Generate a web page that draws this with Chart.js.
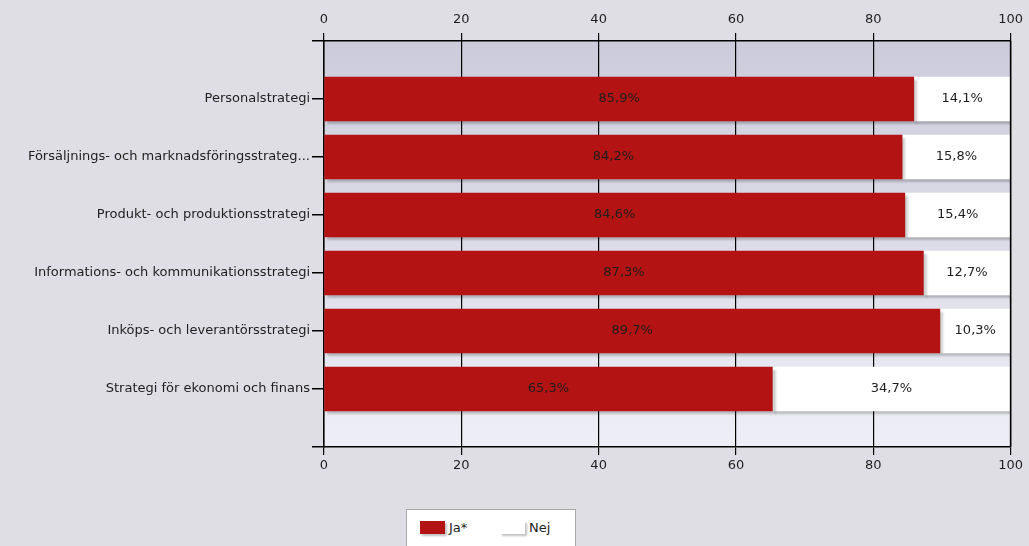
<!DOCTYPE html>
<html>
<head>
<meta charset="utf-8">
<script src="https://cdn.jsdelivr.net/npm/chart.js@4.4.1/dist/chart.umd.min.js"></script>
<style>
  html, body { margin: 0; padding: 0; background: #dfdee4; }
  #wrap { position: relative; width: 1029px; height: 546px; overflow: hidden; }
  #legend { position: absolute; left: 406px; top: 509px; width: 168px; height: 50px; background: #fff; border: 1px solid #a8a8a8; font-family: "DejaVu Sans", sans-serif; font-size: 13px; color: #1e1e1e; }
  .item { position: absolute; top: 10px; display: flex; align-items: center; }
  .sw { width: 25px; height: 13px; margin-right: 4px; box-shadow: 2px 2px 2px rgba(0,0,0,0.25); }
</style>
</head>
<body>
<div id="wrap">
  <canvas id="c" width="1029" height="546"></canvas>
  <div id="legend"></div>
</div>
<script>
const categories = [
  'Personalstrategi',
  'Försäljnings- och marknadsföringsstrateg...',
  'Produkt- och produktionsstrategi',
  'Informations- och kommunikationsstrategi',
  'Inköps- och leverantörsstrategi',
  'Strategi för ekonomi och finans'
];
const jaValues = [85.9, 84.2, 84.6, 87.3, 89.7, 65.3];
const nejValues = [14.1, 15.8, 15.4, 12.7, 10.3, 34.7];
const seriesNames = ['Ja*', 'Nej'];
const seriesColors = ['#b31313', '#ffffff'];
const xTicks = [0, 20, 40, 60, 80, 100];

const labels = [''].concat(categories, ['']);
const pad = arr => [null].concat(arr, [null]);

const FONT = { family: '"DejaVu Sans", sans-serif', size: 13 };

const bgPlugin = {
  id: 'bg',
  beforeDraw(chart) {
    const ctx = chart.ctx, a = chart.chartArea;
    ctx.save();
    ctx.fillStyle = '#dfdee4';
    ctx.fillRect(0, 0, chart.width, chart.height);
    const g = ctx.createLinearGradient(0, a.top, 0, a.bottom);
    g.addColorStop(0, '#cbcbdb');
    g.addColorStop(1, '#eeeef6');
    ctx.fillStyle = g;
    ctx.fillRect(a.left, a.top, a.right - a.left, a.bottom - a.top);
    ctx.restore();
  },
  beforeDatasetsDraw(chart) {
    const ctx = chart.ctx;
    ctx.save();
    ctx.shadowColor = 'rgba(0,0,0,0.2)';
    ctx.shadowOffsetX = 3;
    ctx.shadowOffsetY = 3;
    ctx.shadowBlur = 2;
  },
  afterDatasetsDraw(chart) {
    const ctx = chart.ctx;
    ctx.restore();
    ctx.save();
    ctx.font = FONT.size + 'px ' + FONT.family;
    ctx.fillStyle = '#1e1e1e';
    ctx.textAlign = 'center';
    ctx.textBaseline = 'middle';
    chart.data.datasets.forEach((ds, di) => {
      const meta = chart.getDatasetMeta(di);
      meta.data.forEach((bar, i) => {
        const v = ds.data[i];
        if (v == null) return;
        const p = bar.getProps(['x', 'y', 'base'], true);
        const cx = (p.x + p.base) / 2;
        ctx.fillText(v.toFixed(1).replace('.', ',') + '%', cx, p.y);
      });
    });
    const a = chart.chartArea;
    ctx.strokeStyle = '#000';
    ctx.lineWidth = 1.5;
    ctx.beginPath();
    ctx.moveTo(a.right, a.top);
    ctx.lineTo(a.right, a.bottom);
    ctx.stroke();
    ctx.restore();
  }
};

const chart = new Chart(document.getElementById('c'), {
  type: 'bar',
  data: {
    labels: labels,
    datasets: [
      { label: seriesNames[0], data: pad(jaValues), backgroundColor: seriesColors[0], borderWidth: 0, barThickness: 44 },
      { label: seriesNames[1], data: pad(nejValues), backgroundColor: seriesColors[1], borderWidth: 0, barThickness: 44 }
    ]
  },
  options: {
    responsive: false,
    animation: false,
    devicePixelRatio: 1,
    indexAxis: 'y',
    layout: { padding: { left: 0, right: 18, top: 0, bottom: 69 } },
    plugins: { legend: { display: false }, tooltip: { enabled: false } },
    scales: {
      y: {
        type: 'category',
        stacked: true,
        offset: false,
        afterFit(s) { s.width = 324; },
        grid: { display: true, offset: false, drawOnChartArea: false, color: '#000', tickLength: 12, lineWidth: 1.5 },
        border: { display: true, color: '#000', width: 1.5 },
        ticks: { color: '#1e1e1e', font: FONT, padding: 2, autoSkip: false }
      },
      x: {
        type: 'linear',
        position: 'bottom',
        stacked: true,
        min: 0, max: 100,
        afterFit(s) { s.height = 30; },
        afterBuildTicks(s) { s.ticks = xTicks.map(v => ({ value: v })); },
        grid: { display: true, drawOnChartArea: true, color: '#000', tickLength: 8, lineWidth: 1.2 },
        border: { display: true, color: '#000', width: 1.5 },
        ticks: { color: '#1e1e1e', font: FONT, padding: 3 }
      },
      x2: {
        type: 'linear',
        position: 'top',
        min: 0, max: 100,
        afterFit(s) { s.height = 41; },
        afterBuildTicks(s) { s.ticks = xTicks.map(v => ({ value: v })); },
        grid: { display: true, drawOnChartArea: false, color: '#000', tickLength: 8, lineWidth: 1.2 },
        border: { display: true, color: '#000', width: 1.5 },
        ticks: { color: '#1e1e1e', font: FONT, padding: 6 }
      }
    }
  },
  plugins: [bgPlugin]
});

const leg = document.getElementById('legend');
const lx = [13, 93];
seriesNames.forEach((n, i) => {
  const it = document.createElement('div');
  it.className = 'item';
  it.style.left = lx[i] + 'px';
  const sw = document.createElement('span');
  sw.className = 'sw';
  sw.style.background = seriesColors[i];
  const t = document.createElement('span');
  t.textContent = n;
  it.appendChild(sw); it.appendChild(t);
  leg.appendChild(it);
});
</script>
</body>
</html>
